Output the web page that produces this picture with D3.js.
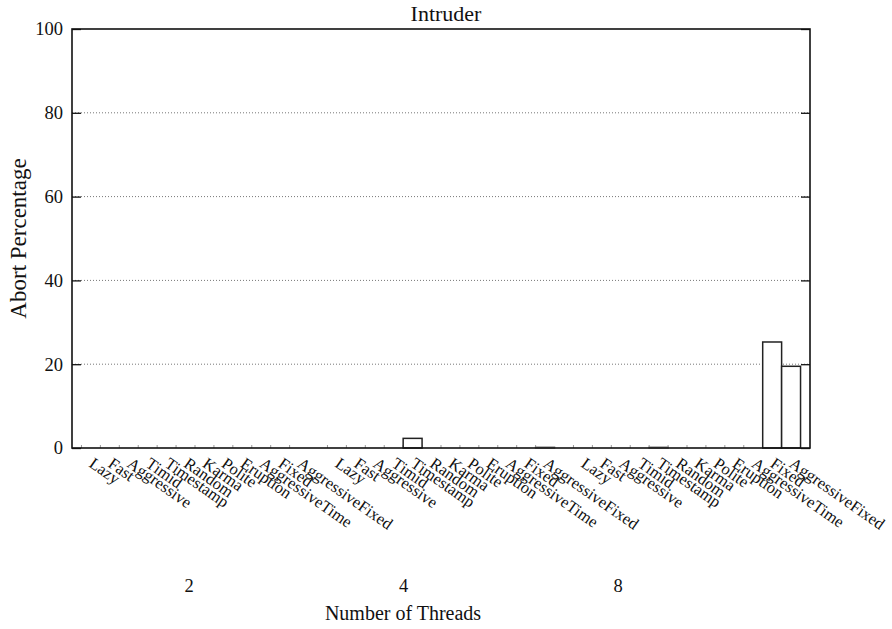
<!DOCTYPE html>
<html>
<head>
<meta charset="utf-8">
<script src="https://cdn.jsdelivr.net/npm/d3@7"></script>
<style>
  body { margin: 0; background: #fff; }
  text { font-family: "Liberation Serif", "Times New Roman", serif; fill: #111; }
</style>
</head>
<body>
<svg id="chart" width="892" height="629"></svg>
<script>
// data
const algorithms = ["Lazy", "Fast", "Aggressive", "Timid", "Timestamp", "Random",
  "Karma", "Polite", "Eruption", "AggressiveTime", "Fixed", "AggressiveFixed"];
const threads = ["2", "4", "8"];
const abort2 = [0, 0, 0, 0, 0, 0, 0, 0, 0, 0, 0, 0];
const abort4 = [0, 0, 0, 0, 2.3, 0, 0, 0, 0, 0, 0, 0.2];
const abort8 = [0, 0, 0, 0, 0.2, 0, 0, 0, 0, 0, 25.3, 19.5];
const yTicks = [0, 20, 40, 60, 80, 100];

const series = [abort2, abort4, abort8];
const groupSize = algorithms.length + 1; // one empty slot between groups

const bars = [];
series.forEach((vals, g) => {
  vals.forEach((v, j) => {
    bars.push({ idx: g * groupSize + j, name: algorithms[j], value: v });
  });
});

const plotL = 72, plotR = 810, plotT = 29, plotB = 448;
const svg = d3.select("#chart");

const x = d3.scaleLinear().domain([-1, 38]).range([plotL, plotR]);
const y = d3.scaleLinear().domain([0, 100]).range([plotB, plotT]);
const slot = x(1) - x(0);

// dotted grid
svg.append("g")
  .selectAll("line")
  .data(yTicks.filter(t => t > 0 && t < 100))
  .enter().append("line")
  .attr("x1", plotL).attr("x2", plotR)
  .attr("y1", d => y(d)).attr("y2", d => y(d))
  .attr("stroke", "#777")
  .attr("stroke-width", 1)
  .attr("stroke-dasharray", "1,2");

// y axis, ticks on both sides pointing in
const yAxisL = svg.append("g")
  .attr("transform", `translate(${plotL},0)`)
  .call(d3.axisLeft(y).tickValues(yTicks).tickSize(-9).tickPadding(9));
const yAxisR = svg.append("g")
  .attr("transform", `translate(${plotR},0)`)
  .call(d3.axisRight(y).tickValues(yTicks).tickSize(-9).tickFormat(""));
[yAxisL, yAxisR].forEach(a => {
  a.select(".domain").remove();
  a.selectAll("line").attr("stroke", "#111").attr("stroke-width", 1.3);
});
yAxisL.selectAll("text")
  .attr("font-size", 18.5)
  .attr("font-family", "Liberation Serif")
  .attr("fill", "#111");

// small ticks along the bottom
svg.append("g")
  .selectAll("line")
  .data(bars)
  .enter().append("line")
  .attr("x1", d => x(d.idx - 0.5)).attr("x2", d => x(d.idx - 0.5))
  .attr("y1", plotB).attr("y2", plotB - 3)
  .attr("stroke", "#999").attr("stroke-width", 1);

// bars
svg.append("g")
  .selectAll("rect")
  .data(bars)
  .enter().append("rect")
  .attr("x", d => x(d.idx - 0.5))
  .attr("y", d => y(d.value))
  .attr("width", slot)
  .attr("height", d => y(0) - y(d.value))
  .attr("fill", "#fff")
  .attr("stroke", d => d.value > 1 ? "#222" : "#888")
  .attr("stroke-width", 1.5);

// frame
svg.append("rect")
  .attr("x", plotL).attr("y", plotT)
  .attr("width", plotR - plotL).attr("height", plotB - plotT)
  .attr("fill", "none").attr("stroke", "#111").attr("stroke-width", 1.6);

// rotated algorithm labels
svg.append("g")
  .selectAll("text")
  .data(bars)
  .enter().append("text")
  .attr("transform", d => `translate(${x(d.idx)},462) rotate(35)`)
  .attr("dy", "0.3em")
  .attr("font-size", 16.5)
  .text(d => d.name);

// thread count labels
const gx = d3.scalePoint().domain(threads).range([189, 618]);
svg.append("g")
  .selectAll("text")
  .data(threads)
  .enter().append("text")
  .attr("x", d => gx(d)).attr("y", 592)
  .attr("text-anchor", "middle")
  .attr("font-size", 18.5)
  .text(d => d);

svg.append("text")
  .attr("x", 403).attr("y", 620)
  .attr("text-anchor", "middle")
  .attr("font-size", 20)
  .text("Number of Threads");

svg.append("text")
  .attr("transform", `translate(26,${(plotT + plotB) / 2}) rotate(-90)`)
  .attr("text-anchor", "middle")
  .attr("font-size", 23)
  .text("Abort Percentage");

svg.append("text")
  .attr("x", 446).attr("y", 21)
  .attr("text-anchor", "middle")
  .attr("font-size", 22)
  .text("Intruder");
</script>
</body>
</html>
